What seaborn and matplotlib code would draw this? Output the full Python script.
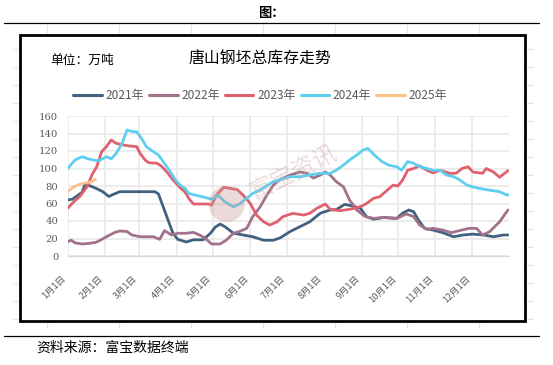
import matplotlib
matplotlib.use("Agg")
import matplotlib.pyplot as plt
from matplotlib.lines import Line2D
from matplotlib.patches import Rectangle, Ellipse
import pandas as pd
import seaborn as sns

# ---------------- data ----------------
years = ["2021年", "2022年", "2023年", "2024年", "2025年"]
colors = ["#41617F", "#A2718C", "#E0606F", "#5DCFEE", "#F9C287"]

month_days = [0, 31, 59, 90, 120, 151, 181, 212, 243, 273, 304, 334]
month_labels = ["1月1日", "2月1日", "3月1日", "4月1日", "5月1日", "6月1日",
                "7月1日", "8月1日", "9月1日", "10月1日", "11月1日", "12月1日"]
y_ticks = [0, 20, 40, 60, 80, 100, 120, 140, 160]

days_2021 = [0, 4, 12, 14, 17, 24, 29, 34, 37, 43, 52, 60, 65, 72, 75, 79, 83, 87, 91, 98,
             104, 112, 118, 122, 126, 130, 137, 145, 153, 162, 170, 176, 184, 192, 200,
             209, 217, 222, 229, 236, 242, 247, 253, 261, 272, 277, 282, 286, 290, 295,
             302, 310, 319, 327, 335, 344, 352, 360, 364]
vals_2021 = [64, 65, 73, 81, 81, 77, 73.5, 68, 70, 73.5, 73.5, 73.5, 73.5, 73.5, 71, 56, 41, 26, 19, 16,
             18.5, 18.5, 26, 33, 36.5, 33.5, 26, 24, 22, 18, 18, 21, 28, 33.5, 39,
             49, 52.6, 53, 59, 57, 54.5, 45, 42, 44, 43, 49, 52.6, 50.6, 41, 31.6,
             29.7, 26.7, 22, 24, 25, 24, 22, 24, 24]

days_2022 = [0, 3, 6, 12, 18, 23, 27, 32, 39, 43, 49, 53, 60, 71, 76, 80, 86, 91, 98, 104,
             109, 113, 119, 126, 131, 137, 142, 148, 153, 159, 164, 170, 175, 184, 192,
             198, 203, 209, 213, 217, 222, 228, 233, 239, 246, 253, 261, 272, 280, 286,
             291, 297, 302, 310, 317, 326, 332, 338, 343, 349, 357, 364]
vals_2022 = [16.4, 18, 15, 13.7, 14.5, 15.5, 18, 22, 27, 28.6, 28, 24, 22, 22, 19, 29, 24, 26, 26, 27,
             24, 21, 13.7, 13.7, 18, 26, 28, 31.6, 45, 56, 68, 81, 87, 92.6, 96,
             94.5, 89, 92.6, 96, 92.6, 85, 79, 64, 52.6, 45, 43, 44, 43, 48, 45,
             35.4, 30.5, 31.6, 29.7, 26.7, 29.7, 31.6, 31.6, 24, 28, 39, 52.6]

days_2023 = [0, 5, 10, 16, 20, 24, 28, 32, 36, 40, 46, 51, 57, 60, 64, 67, 74, 78, 82, 87,
             93, 97, 101, 104, 109, 116, 119, 123, 129, 134, 140, 145, 151, 156, 162,
             167, 173, 178, 186, 195, 200, 206, 213, 217, 225, 233, 242, 247, 253, 258,
             264, 269, 273, 277, 281, 286, 291, 297, 302, 308, 316, 321, 326, 331, 335,
             343, 346, 352, 357, 364]
vals_2023 = [54.5, 62, 68, 79, 92.6, 102, 119, 125, 132.6, 128.8, 126.9, 125.7, 125, 117, 109.7,
             106.6, 106, 102, 96, 87, 78, 73, 64, 59.4, 59.4, 59.4, 58.3, 69.7, 78.5, 77.3,
             76, 69.7, 60, 47, 39, 35.4, 39, 45, 48.7, 46.8, 48.7, 54.5, 59.4, 53.3, 51.8,
             53.3, 56.3, 60, 66, 67.8, 75, 81, 80, 87, 98, 100, 103, 98, 95, 98,
             94.5, 94.5, 100, 102, 96, 94.5, 100, 96, 90, 97.5]

days_2024 = [0, 6, 12, 17, 24, 27, 32, 36, 40, 45, 49, 54, 57, 61, 65, 69, 75, 79, 85, 89,
             93, 97, 100, 105, 111, 116, 120, 124, 130, 137, 142, 148, 153, 159, 164,
             170, 175, 184, 192, 200, 209, 217, 222, 228, 233, 239, 244, 248, 251, 255,
             260, 265, 272, 276, 281, 286, 291, 297, 302, 308, 313, 319, 324, 330, 335,
             340, 348, 357, 363, 365]
vals_2024 = [100, 109.7, 113.5, 111, 109, 109.7, 113.5, 111, 117, 128.8, 144, 142, 142, 134.5, 125,
             121, 115.4, 107.8, 96, 87, 81, 77.3, 71.6, 69.7, 67.8, 66, 65, 69.7, 62, 56.3,
             59.4, 66, 71.6, 75.4, 80, 85, 87, 90.6, 90.6, 92.6, 94.5, 94.5, 98, 104, 109.7,
             115.4, 121, 123, 119, 113.5, 107.8, 104, 102, 98, 107.8, 106, 102, 100, 98, 98,
             92.6, 90.6, 87, 81, 79, 77.3, 75.4, 73.5, 69.7, 70]

days_2025 = [0, 5, 10, 16, 20, 23]
vals_2025 = [73.5, 79, 82, 83.8, 85, 87.6]

series_days = [days_2021, days_2022, days_2023, days_2024, days_2025]
series_vals = [vals_2021, vals_2022, vals_2023, vals_2024, vals_2025]

frames = []
for yr, d, v in zip(years, series_days, series_vals):
    frames.append(pd.DataFrame({"day": d, "value": v, "year": yr}))
df = pd.concat(frames, ignore_index=True)

# ---------------- style ----------------
sns.set_style("white")
plt.rcParams["font.family"] = ["Noto Sans CJK SC", "DejaVu Sans"]

W, H = 553, 365
fig = plt.figure(figsize=(W / 100, H / 100), dpi=100)
fig.patch.set_facecolor("white")


def fx(px):
    return px / W


def fy(py):
    return 1 - py / H


ax = fig.add_axes([fx(67.7), fy(256), (509.2 - 67.7) / W, 140 / H])
palette = dict(zip(years, colors))
sns.lineplot(data=df, x="day", y="value", hue="year", palette=palette,
             linewidth=2.0, ax=ax, legend=False, estimator=None, sort=False)

ax.set_xlim(0, 365)
ax.set_ylim(0, 160)
ax.set_xlabel("")
ax.set_ylabel("")
ax.set_xticks(month_days)
ax.set_xticklabels(month_labels, rotation=45, ha="right", fontsize=6.7, color="#595959")
ax.set_yticks(y_ticks)
ax.set_yticklabels([str(t) for t in y_ticks], fontsize=7.2, color="#595959",
                   family="DejaVu Serif")
ax.tick_params(axis="x", length=0, pad=13)
ax.tick_params(axis="y", length=0, pad=6.8)
ax.grid(True, color="#EBEBEB", linewidth=1.3)
ax.set_axisbelow(True)
for s in ["top", "right", "left"]:
    ax.spines[s].set_visible(False)
ax.spines["bottom"].set_color("#D9D9D9")
ax.spines["bottom"].set_linewidth(1.0)

# legend
handles = [Line2D([0], [0], color=c, lw=2.2) for c in colors]
fig.legend(handles, years, loc="center", bbox_to_anchor=(fx(260.3), fy(96)),
           ncol=5, frameon=False, fontsize=8.6, handlelength=2.375,
           handletextpad=0.33, columnspacing=0.42, borderpad=0,
           labelcolor="#595959")

# titles
fig.text(fx(260.3), fy(59.5), "唐山钢坯总库存走势", ha="center", va="center",
         fontsize=11.4, color="black")
fig.text(fx(50), fy(60.7), "单位：万吨", ha="left", va="center", fontsize=9.2, color="black")
fig.text(fx(258), fy(12.5), "图：", ha="left", va="center", fontsize=9.5,
         color="black", fontweight="bold")
fig.text(fx(36), fy(348), "资料来源：富宝数据终端", ha="left", va="center",
         fontsize=10, color="black")

# faint sheet grid peeking around the frame
for cx in [46.5, 118.5, 190.5, 262.5, 334.5, 406.5, 478.5]:
    fig.add_artist(Line2D([fx(cx), fx(cx)], [fy(24.5), fy(33)], color="#E3E3E3", lw=0.8))
    fig.add_artist(Line2D([fx(cx), fx(cx)], [fy(323), fy(327)], color="#E3E3E3", lw=0.8))
for ry in [48.5, 66.5, 84.5, 102.5, 120.5, 138.5, 156.5, 174.5, 192.5, 210.5,
           228.5, 246.5, 264.5, 282.5, 300.5, 318.5]:
    fig.add_artist(Line2D([fx(12.5), fx(18)], [fy(ry), fy(ry)], color="#E3E3E3", lw=0.8))
    fig.add_artist(Line2D([fx(527), fx(533)], [fy(ry), fy(ry)], color="#E3E3E3", lw=0.8))

# rules
fig.add_artist(Line2D([fx(4), fx(539)], [fy(23.3), fy(23.3)], color="black", lw=0.9))
fig.add_artist(Line2D([fx(4), fx(539)], [fy(336), fy(336)], color="black", lw=0.9))

# frame
fig.add_artist(Rectangle((fx(19.7), fy(321.3)), fx(525.3 - 19.7), (321.3 - 34.7) / H,
                         transform=fig.transFigure, fill=False, edgecolor="black",
                         linewidth=2.0))

# watermark
fig.add_artist(Ellipse((fx(226.7), fy(204)), 36 / W, 36 / H, transform=fig.transFigure,
                       facecolor="#C99393", edgecolor="none", alpha=0.35, zorder=5))
fig.text(fx(293), fy(172), "富宝资讯", ha="center", va="center", rotation=27,
         fontsize=17, color="#D4A5A5", alpha=0.4, zorder=5)

fig.savefig("out.png", dpi=100)
